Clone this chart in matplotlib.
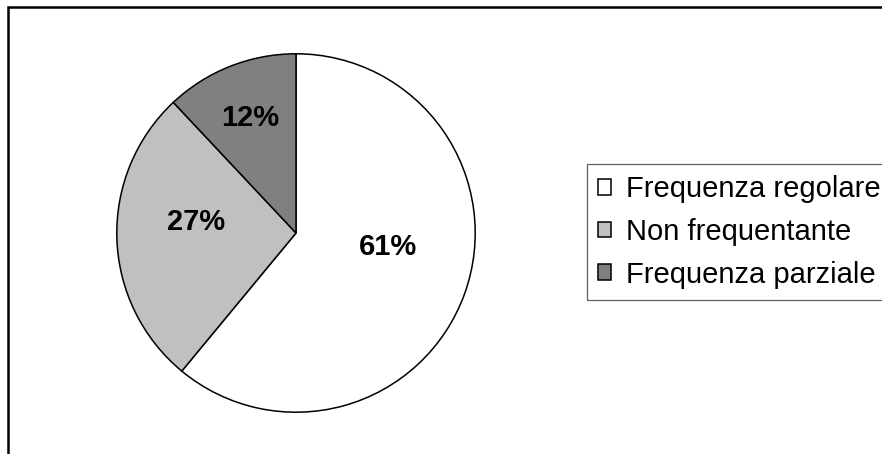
import numpy as np
import matplotlib.pyplot as plt
from matplotlib.patches import Rectangle

# Frequenza scolastica
labels = ["Frequenza regolare", "Non frequentante", "Frequenza parziale"]
values = [61, 27, 12]
colors = ["#FFFFFF", "#C0C0C0", "#808080"]

plt.rcParams['font.family'] = ['Liberation Sans', 'DejaVu Sans']

fig = plt.figure(figsize=(8.82, 4.54), dpi=100)

# outer chart frame (only left and top edges fall inside the image)
fig.patches.append(Rectangle((8 / 882, -0.2), 1.2, 0.2 + (454 - 7) / 454,
                             transform=fig.transFigure, fill=False,
                             edgecolor='black', linewidth=1.8, zorder=0))

ax = fig.add_axes([115 / 882, 40 / 454, 362 / 882, 362 / 454])
wedges, _ = ax.pie(values, colors=colors, startangle=90, counterclock=False,
                   radius=1.0, wedgeprops=dict(edgecolor='black', linewidth=1.1))
ax.set_xlim(-1.01, 1.01)
ax.set_ylim(-1.01, 1.01)
ax.set_aspect('equal')
ax.axis('off')

# percentage labels, placed along each wedge's bisector
label_dist = [0.52, 0.56, 0.69]
label_shift = [11, -8, 0]  # degrees
for w, v, d, s in zip(wedges, values, label_dist, label_shift):
    ang = np.deg2rad((w.theta1 + w.theta2) / 2 + s)
    ax.text(d * np.cos(ang), d * np.sin(ang), f"{v}%", ha='center', va='center',
            fontsize=21, fontweight='bold')

x0 = 587 / 882
y_top = 1 - 163 / 454
y_bot = 1 - 301 / 454
leg = fig.legend(wedges, labels, loc='center left', mode='expand',
                 bbox_to_anchor=(x0, y_bot, 1.05 - x0, y_top - y_bot),
                 bbox_transform=fig.transFigure, fontsize=21,
                 handlelength=0.45, handleheight=0.45, handletextpad=0.5,
                 borderpad=0.38, borderaxespad=0, labelspacing=0.5,
                 fancybox=False, framealpha=1)
leg.get_frame().set_edgecolor('#606060')
leg.get_frame().set_linewidth(0.9)

fig.savefig("out.png", dpi=100)
